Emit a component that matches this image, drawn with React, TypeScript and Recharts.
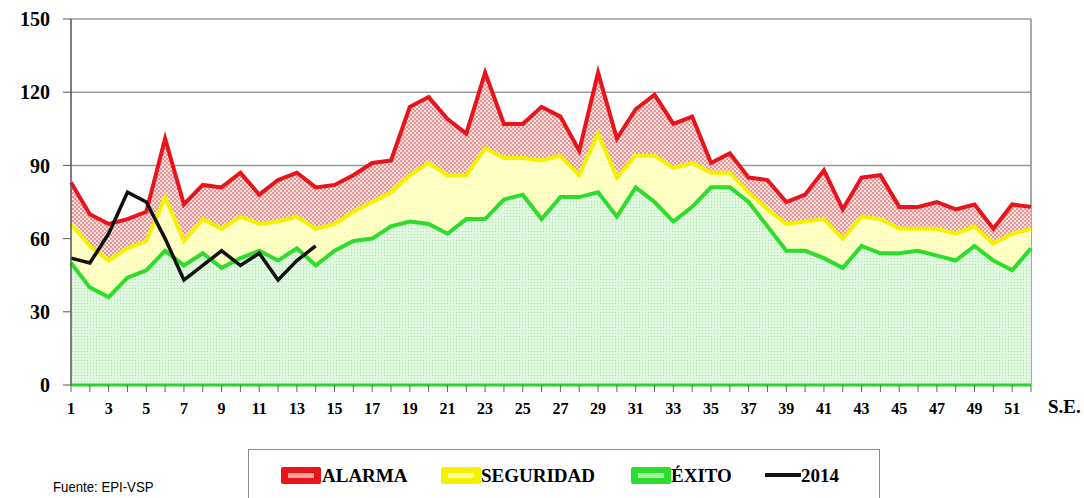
import { ComposedChart, Area, Line, XAxis, YAxis, CartesianGrid } from 'recharts';

const semanas = Array.from({ length: 52 }, (_, i) => i + 1);

const alarma = [
  83, 70, 66, 68, 71, 101, 74, 82, 81, 87, 78, 84, 87, 81, 82, 86, 91, 92, 114, 118, 109, 103, 128, 107, 107, 114,
  110, 96, 128, 101, 113, 119, 107, 110, 91, 95, 85, 84, 75, 78, 88, 72, 85, 86, 73, 73, 75, 72, 74, 64, 74, 73,
];
const seguridad = [
  66, 57, 51, 56, 59, 77, 59, 68, 64, 69, 66, 67, 69, 64, 66, 71, 75, 79, 86, 91, 86, 86, 97, 93, 93, 92,
  94, 86, 103, 85, 94, 94, 89, 91, 87, 87, 79, 72, 66, 67, 68, 60, 69, 68, 64, 64, 64, 62, 65, 58, 62, 64,
];
const exito = [
  50, 40, 36, 44, 47, 55, 49, 54, 48, 52, 55, 51, 56, 49, 55, 59, 60, 65, 67, 66, 62, 68, 68, 76, 78, 68,
  77, 77, 79, 69, 81, 75, 67, 73, 81, 81, 75, 65, 55, 55, 52, 48, 57, 54, 54, 55, 53, 51, 57, 51, 47, 56,
];
const anio2014 = [52, 50, 62, 79, 75, 60, 43, 49, 55, 49, 54, 43, 51, 57];

const yTicks = [0, 30, 60, 90, 120, 150];

const data = semanas.map((s, i) => ({
  semana: s,
  alarma: alarma[i],
  seguridad: seguridad[i],
  exito: exito[i],
  a2014: i < anio2014.length ? anio2014[i] : null,
}));

const SERIF = '"Liberation Serif", "Times New Roman", serif';

const legendItems = [
  { label: 'ALARMA', color: '#e8141c', inner: '#f7a0a0', swatch: 32, text: 73 },
  { label: 'SEGURIDAD', color: '#f2f200', inner: '#fbfb9a', swatch: 192, text: 232 },
  { label: 'ÉXITO', color: '#2edc2e', inner: '#a8f0a8', swatch: 382, text: 422 },
];

function XTick({ x, y, payload }: any) {
  if (payload.value % 2 === 0) return <g />;
  return (
    <text x={x} y={y} dy="0.71em" textAnchor="middle" fontFamily={SERIF} fontWeight="bold" fontSize={16} fill="#000">
      {payload.value}
    </text>
  );
}

function Leyenda() {
  return (
    <div
      style={{
        position: 'absolute',
        left: 248,
        top: 449,
        width: 632,
        height: 70,
        border: '1.5px solid #8c8c8c',
        boxSizing: 'border-box',
        fontFamily: SERIF,
        fontWeight: 'bold',
        fontSize: 19,
      }}
    >
      {legendItems.map((it) => (
        <div key={it.label}>
          <svg style={{ position: 'absolute', left: it.swatch, top: 17 }} width={40} height={17}>
            <rect x={0} y={0} width={40} height={17} rx={2} fill={it.color} />
            <rect x={7} y={6} width={26} height={5} fill={it.inner} />
          </svg>
          <span style={{ position: 'absolute', left: it.text, top: 15, lineHeight: '22px' }}>{it.label}</span>
        </div>
      ))}
      <svg style={{ position: 'absolute', left: 516, top: 22 }} width={36} height={6}>
        <rect x={0} y={1} width={36} height={4} fill="#111" />
      </svg>
      <span style={{ position: 'absolute', left: 552, top: 15, lineHeight: '22px' }}>2014</span>
    </div>
  );
}

export default function App() {
  return (
    <div style={{ position: 'absolute', left: 0, top: 0, width: 1084, height: 498, background: '#fff', overflow: 'hidden' }}>
      <ComposedChart width={1084} height={498} data={data} margin={{ top: 19, right: 53, bottom: 83, left: 11 }}>
        <defs>
          <pattern id="patAlarma" width={4} height={4} patternUnits="userSpaceOnUse">
            <rect width={4} height={4} fill="#fbe0e0" />
            <rect x={0} y={0} width={2} height={2} fill="#ec9494" />
            <rect x={2} y={2} width={2} height={2} fill="#ec9494" />
          </pattern>
          <pattern id="patSeguridad" width={4} height={4} patternUnits="userSpaceOnUse">
            <rect width={4} height={4} fill="#ffffc8" />
            <rect x={0} y={0} width={1} height={1} fill="#f4f4a8" />
          </pattern>
          <pattern id="patExito" width={3} height={3} patternUnits="userSpaceOnUse">
            <rect width={3} height={3} fill="#e0f8e0" />
            <rect x={0} y={0} width={1} height={1} fill="#acE6ac" />
          </pattern>
        </defs>
        <CartesianGrid vertical={false} horizontal stroke="#9a9a9a" strokeWidth={1.5} />
        <CartesianGrid horizontal={false} verticalPoints={[1031]} stroke="#8a8a8a" strokeWidth={1.5} />
        <XAxis
          dataKey="semana"
          type="number"
          domain={[1, 52]}
          ticks={semanas}
          interval={0}
          height={30}
          tick={<XTick />}
          tickSize={7}
          tickMargin={11}
          tickLine={{ stroke: '#666' }}
          axisLine={{ stroke: '#2fd22f', strokeWidth: 3 }}
          label={(props: any) => {
            const vb = props.viewBox || {};
            return (
              <text x={(vb.x ?? 71) + (vb.width ?? 960) + 17} y={(vb.y ?? 385) + 28} fontFamily={SERIF} fontWeight="bold" fontSize={19} fill="#000">
                S.E.
              </text>
            );
          }}
        />
        <YAxis
          type="number"
          domain={[0, 150]}
          ticks={yTicks}
          width={60}
          tickSize={8}
          tickMargin={13}
          tick={{ fontFamily: SERIF, fontWeight: 'bold', fontSize: 20, fill: '#000' }}
          tickLine={{ stroke: '#555' }}
          axisLine={{ stroke: '#555', strokeWidth: 1.5 }}
        />
        <Area
          type="linear"
          dataKey="alarma"
          stroke="#e8141c"
          strokeWidth={4}
          fill="url(#patAlarma)"
          fillOpacity={1}
          dot={false}
          activeDot={false}
          isAnimationActive={false}
        />
        <Area
          type="linear"
          dataKey="seguridad"
          stroke="#f2f200"
          strokeWidth={4}
          fill="url(#patSeguridad)"
          fillOpacity={1}
          dot={false}
          activeDot={false}
          isAnimationActive={false}
        />
        <Area
          type="linear"
          dataKey="exito"
          stroke="#2edc2e"
          strokeWidth={4}
          fill="url(#patExito)"
          fillOpacity={1}
          dot={false}
          activeDot={false}
          isAnimationActive={false}
        />
        <Line
          type="linear"
          dataKey="a2014"
          stroke="#111"
          strokeWidth={3.5}
          dot={false}
          activeDot={false}
          connectNulls={false}
          isAnimationActive={false}
        />
      </ComposedChart>
      <Leyenda />
      <div
        style={{
          position: 'absolute',
          left: 53,
          top: 478,
          fontFamily: '"Liberation Sans", Arial, sans-serif',
          fontSize: 15,
          lineHeight: '18px',
          color: '#000',
          transform: 'scaleX(0.88)',
          transformOrigin: 'left top',
        }}
      >
        Fuente: EPI-VSP
      </div>
    </div>
  );
}
